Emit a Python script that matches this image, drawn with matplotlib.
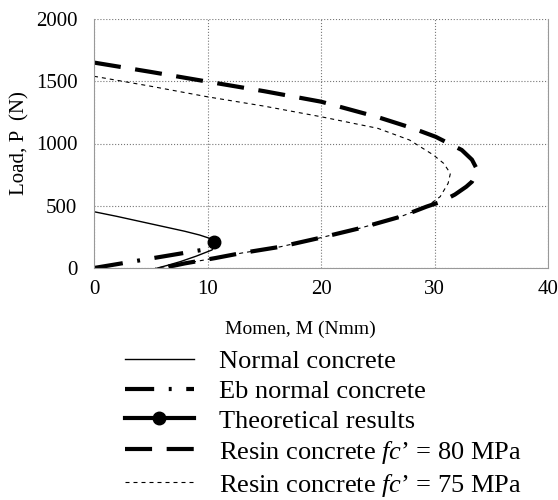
import matplotlib
matplotlib.use("Agg")
import matplotlib.pyplot as plt

# moment (Nmm) vs load (N)
normal_M = [0, 2, 4, 6, 8, 9.3, 10.3, 10.6, 10.55, 10.4, 9.0, 7.6, 6.5, 5.6]
normal_P = [452, 415, 375, 335, 295, 265, 235, 210, 175, 145, 95, 51, 22, 0]

eb_M = [0, 10.5]
eb_P = [0, 160]

theory_M = [10.6]
theory_P = [212]

resin80_M = [0, 5, 10, 15, 20, 25, 28, 30.1, 32.4, 33.3, 33.7, 33.6, 33.3, 32.8,
             31.8, 30.6, 29.3, 27, 23.4, 20, 16.4, 13, 10.7, 8, 7, 5.4]
resin80_P = [1650, 1575, 1497, 1420, 1336, 1212, 1125, 1054, 948, 870, 800, 747, 693, 653,
             590, 533, 493, 412, 319, 244, 170, 120, 80, 37, 18, 0]

resin75_M = [0, 5, 10, 15, 20, 25, 27.8, 29.9, 30.8, 31.4, 31.2, 30.5, 29.3, 27,
             23.4, 20, 16.4, 13, 10.7, 8, 7, 5.4]
resin75_P = [1540, 1460, 1375, 1300, 1215, 1122, 1028, 908, 841, 760, 680, 573, 493, 412,
             319, 244, 170, 120, 80, 37, 18, 0]

x_ticks = [0, 10, 20, 30, 40]
y_ticks = [0, 500, 1000, 1500, 2000]

labels = ["Normal concrete",
          "Eb normal concrete",
          "Theoretical results",
          "Resin concrete $\\mathit{fc}$\u2019 = 80 MPa",
          "Resin concrete $\\mathit{fc}$\u2019 = 75 MPa"]

plt.rcParams["font.family"] = ["Liberation Serif", "DejaVu Serif"]
plt.rcParams["mathtext.fontset"] = "custom"
plt.rcParams["mathtext.rm"] = "Liberation Serif"
plt.rcParams["mathtext.it"] = "Liberation Serif:italic"
plt.rcParams["font.size"] = 15

fig = plt.figure(figsize=(5.58, 5.0), dpi=100)
ax = fig.add_axes([94 / 558, 1 - 268 / 500, 454 / 558, 249 / 500])

h1, = ax.plot(normal_M, normal_P, color="black", lw=1.0)
h2, = ax.plot(eb_M, eb_P, color="black", lw=3, linestyle=(0, (7, 3.5, 0.7, 3.5)))
h3, = ax.plot(theory_M, theory_P, color="black", lw=3, marker="o", markersize=9)
h4, = ax.plot(resin80_M, resin80_P, color="black", lw=3, linestyle=(0, (6.5, 3.5)))
h5, = ax.plot(resin75_M, resin75_P, color="black", lw=0.8, linestyle=(0, (3.6, 3.6)))

ax.set_xlim(0, 40)
ax.set_ylim(0, 2000)
ax.set_xticks(x_ticks)
ax.set_yticks(y_ticks)
ax.tick_params(length=0, labelsize=15)
ax.tick_params(axis="y", pad=12)
ax.tick_params(axis="x", pad=9)
ax.grid(True, color="#777777", linestyle=":", linewidth=0.8)
for s in ["left", "bottom", "right"]:
    ax.spines[s].set_color("#999999")
ax.spines["top"].set_visible(False)

ax.set_xlabel("Momen, M (Nmm)", fontsize=14)
ax.xaxis.set_label_coords((300 - 94) / 454, (268 - 321) / 249)
ax.set_ylabel("Load, P  (N)", fontsize=15)
ax.yaxis.set_label_coords((29 - 94) / 454, 0.5)

fig.legend([h1, h2, h3, h4, h5], labels, loc="upper left",
           bbox_to_anchor=(125 / 558, 1 - 350 / 500), frameon=False,
           handlelength=2.6, handletextpad=0.95, labelspacing=0.23,
           borderpad=0, borderaxespad=0, fontsize=19)

fig.savefig("out.png", dpi=100)
